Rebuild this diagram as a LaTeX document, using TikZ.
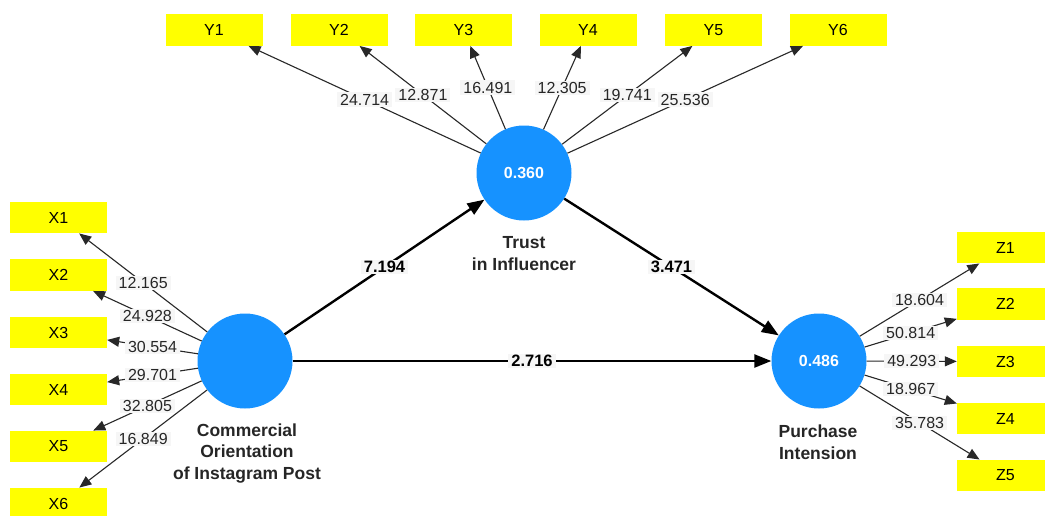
\documentclass[tikz,border=0pt]{standalone}
\usepackage{fontspec}
\setmainfont{Liberation Sans}
\usetikzlibrary{arrows.meta}
\definecolor{lvblue}{RGB}{22,146,255}
\definecolor{indyellow}{RGB}{255,255,0}
\definecolor{lblbg}{RGB}{246,246,246}
\definecolor{linegray}{RGB}{40,40,40}
\tikzset{
  ind/.style={rectangle, fill=indyellow, minimum width=97pt, minimum height=31.5pt, inner sep=0pt, font=\fontsize{16}{18}\selectfont},
  lv/.style={circle, fill=lvblue, minimum size=95pt, inner sep=0pt, text=white, font=\bfseries\fontsize{16}{18}\selectfont},
  lvname/.style={align=center, font=\bfseries\fontsize{17.5}{21.5}\selectfont, text=black!85},
  outer/.style={draw=linegray, line width=1.1pt, -{Triangle[length=12pt,width=10pt]}},
  inner/.style={draw=black, line width=2.4pt, -{Triangle[length=17pt,width=13pt]}},
  lbl/.style={fill=lblbg, inner xsep=3pt, inner ysep=1.5pt, text=black!85, font=\fontsize{16}{18}\selectfont},
  blbl/.style={fill=lblbg, inner xsep=3pt, inner ysep=1.5pt, text=black, font=\bfseries\fontsize{16.5}{18}\selectfont}
}
\begin{document}
\begin{tikzpicture}[x=1pt,y=-1pt]
\useasboundingbox (0,0) rectangle (1045,515);
\clip (0,0) rectangle (1045,515);
\fill[white] (0,0) rectangle (1045,515);

% latent variables
\node[lv] (T) at (524,173) {0.360};
\node[lv] (C) at (245,361) {};
\node[lv] (P) at (819,361) {0.486};
\node[lvname] (Tn) at (524,253.5) {Trust\\in Influencer};
\node[lvname] (Cn) at (247,453.5) {Commercial\\Orientation\\of Instagram Post};
\node[lvname] (Pn) at (818,442) {Purchase\\Intension};

% indicators
\node[ind] (Y1) at (214,30) {Y1};
\node[ind] (Y2) at (339,30) {Y2};
\node[ind] (Y3) at (463.5,30) {Y3};
\node[ind] (Y4) at (588,30) {Y4};
\node[ind] (Y5) at (713.5,30) {Y5};
\node[ind] (Y6) at (838,30) {Y6};

\node[ind] (X1) at (58.5,217.5) {X1};
\node[ind] (X2) at (58.5,275) {X2};
\node[ind] (X3) at (58.5,332.5) {X3};
\node[ind] (X4) at (58.5,389.5) {X4};
\node[ind] (X5) at (58.5,446.5) {X5};
\node[ind] (X6) at (58.5,503.5) {X6};

\node[ind] (Z1) at (1005.5,247.5) {Z1};
\node[ind] (Z2) at (1005.5,304) {Z2};
\node[ind] (Z3) at (1005.5,361.5) {Z3};
\node[ind] (Z4) at (1005.5,418.5) {Z4};
\node[ind] (Z5) at (1005.5,475.5) {Z5};

% outer loadings
\draw[outer] (T) -- node[lbl] {24.714} (Y1);
\draw[outer] (T) -- node[lbl] {12.871} (Y2);
\draw[outer] (T) -- node[lbl] {16.491} (Y3);
\draw[outer] (T) -- node[lbl] {12.305} (Y4);
\draw[outer] (T) -- node[lbl] {19.741} (Y5);
\draw[outer] (T) -- node[lbl] {25.536} (Y6);

\draw[outer] (C) -- node[lbl] {12.165} (X1);
\draw[outer] (C) -- node[lbl] {24.928} (X2);
\draw[outer] (C) -- node[lbl] {30.554} (X3);
\draw[outer] (C) -- node[lbl] {29.701} (X4);
\draw[outer] (C) -- node[lbl] {32.805} (X5);
\draw[outer] (C) -- node[lbl] {16.849} (X6);

\draw[outer] (P) -- node[lbl] {18.604} (Z1);
\draw[outer] (P) -- node[lbl] {50.814} (Z2);
\draw[outer] (P) -- node[lbl] {49.293} (Z3);
\draw[outer] (P) -- node[lbl] {18.967} (Z4);
\draw[outer] (P) -- node[lbl] {35.783} (Z5);

% structural paths
\draw[inner] (C) -- node[blbl] {7.194} (T);
\draw[inner] (T) -- node[blbl] {3.471} (P);
\draw[inner] (C) -- node[blbl] {2.716} (P);
\end{tikzpicture}
\end{document}
